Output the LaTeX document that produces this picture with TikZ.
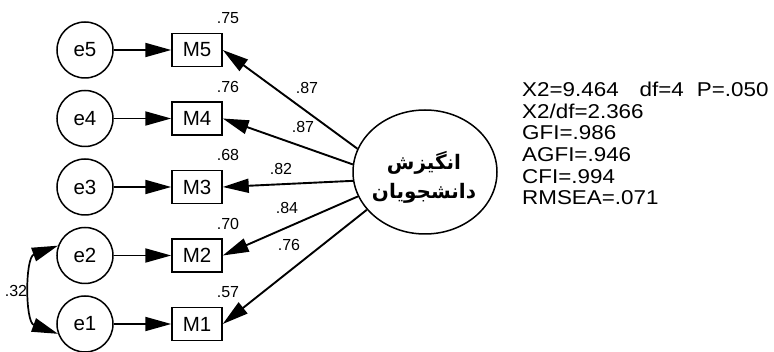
\documentclass[tikz,border=0pt]{standalone}
\usepackage{fontspec}
\setmainfont{Liberation Sans}
\newfontfamily\statfont[FakeStretch=1.12]{Liberation Sans}
\newfontfamily\arabicfont[Script=Arabic]{DejaVu Sans}
\TeXXeTstate=1
\usetikzlibrary{arrows.meta,shapes.geometric}
\tikzset{semtip/.tip={Triangle[length=26pt,width=14pt]}}
\begin{document}
\begin{tikzpicture}[x=1pt,y=-1pt,
 errc/.style={circle,draw,line width=1.5pt,minimum size=56pt,inner sep=0pt,font=\fontsize{20.5}{24}\selectfont},
 obs/.style={rectangle,draw,line width=1.5pt,minimum width=50pt,minimum height=33pt,inner sep=0pt,font=\fontsize{20.5}{24}\selectfont},
 lat/.style={ellipse,draw,line width=1.5pt,minimum width=144pt,minimum height=124pt,inner sep=0pt},
 ptext/.style={align=center,inner sep=0pt,font=\arabicfont\bfseries\fontsize{20}{29}\selectfont},
 arr/.style={line width=1.9pt,-semtip},
 lbl/.style={font=\fontsize{16}{18}\selectfont,inner sep=0pt}
]
\useasboundingbox (0,0) rectangle (774,352);
\foreach \i/\y in {5/50,4/118.5,3/187,2/255.5,1/324} {
  \node[errc] (e\i) at (85,\y) {e\i};
  \node[obs] (M\i) at (197,\y) {M\i};
  \draw[arr] (e\i) -- (M\i);
}
\node[lbl] (r5) at (228,18) {.75};
\node[lbl] (r4) at (228,86.5) {.76};
\node[lbl] (r3) at (228,155) {.68};
\node[lbl] (r2) at (228,223.5) {.70};
\node[lbl] (r1) at (228,292) {.57};
\node[lat] (F) at (425,172) {};
\node[ptext] (Ft) at (424,177) {\beginR انگیزش\endR\\\beginR دانشجویان\endR};
\draw[arr] (F.161) -- (M5.east);
\draw[arr] (F.174) -- (M4.east);
\draw[arr] (F.187) -- (M3.east);
\draw[arr] (F.200) -- (M2.east);
\draw[arr] (F.213) -- (M1.east);
\node[lbl] (l5) at (307,88) {.87};
\node[lbl] (l4) at (303,127) {.87};
\node[lbl] (l3) at (281,169) {.82};
\node[lbl] (l2) at (287,208) {.84};
\node[lbl] (l1) at (289,245) {.76};
\draw[line width=1.7pt,semtip-semtip] (e2.160) .. controls +(-33,12) and +(-33,-12) .. (e1.200);
\node[lbl] (c12) at (16,291) {.32};
\node[anchor=north west,inner sep=0pt,align=left,font=\statfont\fontsize{20}{21.6}\selectfont] (fit) at (522,82)
 {X2=9.464\hspace{21pt}df=4\hspace{13pt}P=.050\\X2/df=2.366\\GFI=.986\\AGFI=.946\\CFI=.994\\RMSEA=.071};
\end{tikzpicture}
\end{document}
